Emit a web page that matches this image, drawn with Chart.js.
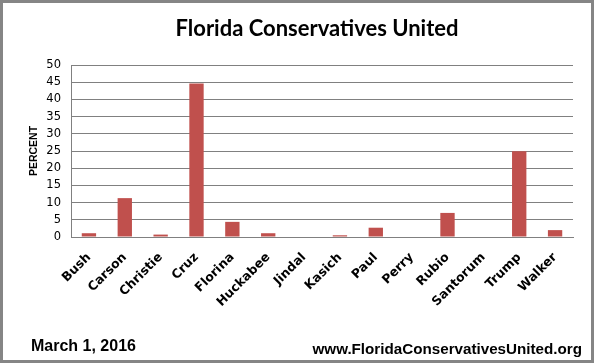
<!DOCTYPE html>
<html>
<head>
<meta charset="utf-8">
<script src="https://cdn.jsdelivr.net/npm/chart.js@4"></script>
<style>
  html, body { margin: 0; padding: 0; background: #fff; }
  #frame { position: relative; width: 594px; height: 363px; box-sizing: border-box; border: 3px solid #858585; overflow: hidden; }
  #c { position: absolute; left: -3px; top: -3px; }
  .txt { position: absolute; font-family: "Liberation Sans", Arial, sans-serif; font-weight: bold; color: #000; white-space: nowrap; line-height: 1; }
  #title { left: 14px; width: 600px; top: 14px; text-align: center; font-family: Lato, "Open Sans", sans-serif; font-size: 22px; font-weight: bold; }
  #date { left: 28px; top: 335px; font-size: 16px; }
  #url { right: 9px; top: 337.5px; font-size: 15.2px; }
</style>
</head>
<body>
<div id="frame">
  <canvas id="c" width="594" height="363"></canvas>
  <div id="title" class="txt">Florida Conservatives United</div>
  <div id="date" class="txt">March 1, 2016</div>
  <div id="url" class="txt">www.FloridaConservativesUnited.org</div>
</div>
<script>
const categories = ["Bush", "Carson", "Christie", "Cruz", "Florina", "Huckabee", "Jindal", "Kasich", "Paul", "Perry", "Rubio", "Santorum", "Trump", "Walker"];
const percentValues = [1.1, 11.3, 0.7, 44.6, 4.4, 1.1, 0, 0.5, 2.7, 0, 7.0, 0, 24.9, 2.0];
const yTicks = [0, 5, 10, 15, 20, 25, 30, 35, 40, 45, 50];
const yAxisTitle = "PERCENT";

new Chart(document.getElementById('c'), {
  type: 'bar',
  data: {
    labels: categories,
    datasets: [{
      data: percentValues,
      backgroundColor: '#C0504D',
      borderWidth: 0,
      barPercentage: 0.4,
      categoryPercentage: 1.0
    }]
  },
  options: {
    responsive: false,
    animation: false,
    devicePixelRatio: 1,
    layout: { padding: { top: 65, left: 0, right: 21, bottom: 0 } },
    plugins: { legend: { display: false }, tooltip: { enabled: false }, title: { display: false } },
    scales: {
      x: {
        grid: { display: false, drawTicks: false },
        border: { display: true, color: '#808080', width: 1 },
        ticks: {
          color: '#000',
          font: { family: 'DejaVu Sans', size: 12.5, weight: 'bold' },
          minRotation: 45, maxRotation: 45, padding: 13, autoSkip: false
        },
        afterFit: s => { s.height = 126; }
      },
      y: {
        min: 0, max: 50,
        afterBuildTicks: s => { s.ticks = yTicks.map(v => ({ value: v })); },
        grid: { color: '#808080', lineWidth: 1, drawTicks: false },
        border: { display: true, color: '#808080', width: 1 },
        ticks: { color: '#000', font: { family: 'DejaVu Sans', size: 11.5 }, padding: 10 },
        title: { display: true, text: yAxisTitle, color: '#000', font: { family: 'Liberation Sans', size: 10.5, weight: 'bold' }, padding: { top: 28, bottom: 0 } },
        afterFit: s => { s.width = 71; }
      }
    }
  }
});
</script>
</body>
</html>
